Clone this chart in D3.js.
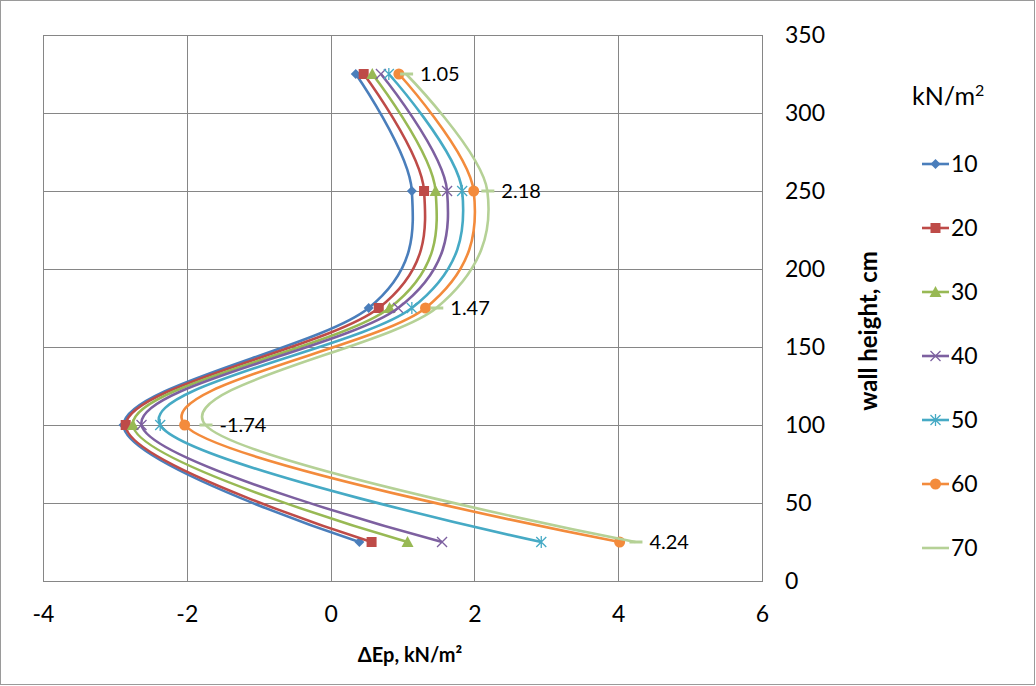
<!DOCTYPE html>
<html><head><meta charset="utf-8">
<script src="https://cdn.jsdelivr.net/npm/d3@7/dist/d3.min.js"></script>
<style>body{margin:0;background:#fff}svg text{font-family:Lato,"Open Sans",sans-serif;fill:#000}</style>
</head><body><svg id="c" width="1036" height="686"></svg>
<script>
const heights = [25, 100, 175, 250, 325];
const seriesNames = ["10", "20", "30", "40", "50", "60", "70"];
const s10 = [0.40, -2.88, 0.53, 1.13, 0.35];
const s20 = [0.57, -2.85, 0.67, 1.30, 0.46];
const s30 = [1.07, -2.75, 0.82, 1.46, 0.58];
const s40 = [1.55, -2.63, 0.94, 1.62, 0.70];
const s50 = [2.93, -2.37, 1.13, 1.83, 0.81];
const s60 = [4.02, -2.03, 1.32, 1.99, 0.95];
const s70 = [4.24, -1.74, 1.47, 2.18, 1.05];
const colors = ["#4A7EBB", "#BE4B48", "#98B954", "#7D60A0", "#46AAC5", "#F38B3C", "#B5D196"];
const markers = ["diamond", "square", "triangle", "x", "star", "circle", "dash"];
const xTicks = [-4, -2, 0, 2, 4, 6];
const yTicks = [0, 50, 100, 150, 200, 250, 300, 350];
const labelSeries = s70;

const allSeries = [s10, s20, s30, s40, s50, s60, s70];
const svg = d3.select("#c");
svg.append("rect").attr("x", 0.5).attr("y", 0.5).attr("width", 1034).attr("height", 684)
  .attr("fill", "#fff").attr("stroke", "#9a9a9a");

const L = 43, R = 762, T = 35, B = 581;
const x = d3.scaleLinear().domain([-4, 6]).range([L, R]);
const y = d3.scaleLinear().domain([0, 350]).range([B, T]);
const hy = s => String(s).replace("\u2212", "-");

const g = svg.append("g");
g.selectAll(".vg").data(xTicks).join("line")
  .attr("x1", d => Math.round(x(d)) + 0.5).attr("x2", d => Math.round(x(d)) + 0.5)
  .attr("y1", T).attr("y2", B).attr("stroke", "#868686").attr("stroke-width", 1);
g.selectAll(".hg").data(yTicks).join("line")
  .attr("y1", d => Math.round(y(d)) + 0.5).attr("y2", d => Math.round(y(d)) + 0.5)
  .attr("x1", L).attr("x2", R).attr("stroke", "#868686").attr("stroke-width", 1);
g.append("rect").attr("x", L + 0.5).attr("y", T + 0.5).attr("width", R - L).attr("height", B - T)
  .attr("fill", "none").attr("stroke", "#868686");

const xAxis = svg.append("g").attr("transform", `translate(0,${B})`)
  .call(d3.axisBottom(x).tickValues(xTicks).tickSize(0).tickPadding(25).tickFormat(d => hy(d3.format("d")(d))));
xAxis.select(".domain").remove();
xAxis.selectAll("text").style("font-size", "23px").style("font-family", "Lato,'Open Sans',sans-serif").attr("fill", "#000");

const yAxis = svg.append("g").attr("transform", `translate(${R},0)`)
  .call(d3.axisRight(y).tickValues(yTicks).tickSize(0).tickPadding(23));
yAxis.select(".domain").remove();
yAxis.selectAll("text").style("font-size", "23px").style("font-family", "Lato,'Open Sans',sans-serif").attr("fill", "#000");

svg.append("text").attr("x", 410).attr("y", 662).attr("text-anchor", "middle")
  .style("font-size", "20px").style("font-weight", "bold").text("ΔEp, kN/m²");
svg.append("text").attr("transform", "translate(877,331) rotate(-90)").attr("text-anchor", "middle")
  .style("font-size", "24px").style("font-weight", "bold").text("wall height, cm");

const line = d3.line().curve(d3.curveCardinal.tension(0)).x(d => x(d[0])).y(d => y(d[1]));
function drawMarker(sel, type, cx, cy, color) {
  if (type === "diamond") sel.append("path").attr("d", `M${cx},${cy-5}L${cx+5},${cy}L${cx},${cy+5}L${cx-5},${cy}Z`).attr("fill", color);
  else if (type === "square") sel.append("rect").attr("x", cx-5).attr("y", cy-5).attr("width", 10).attr("height", 10).attr("fill", color);
  else if (type === "triangle") sel.append("path").attr("d", `M${cx},${cy-6}L${cx+6},${cy+5}L${cx-6},${cy+5}Z`).attr("fill", color);
  else if (type === "x") sel.append("path").attr("d", `M${cx-5},${cy-5}L${cx+5},${cy+5}M${cx-5},${cy+5}L${cx+5},${cy-5}`).attr("stroke", color).attr("stroke-width", 1.3);
  else if (type === "star") sel.append("path").attr("d", `M${cx-5},${cy-5}L${cx+5},${cy+5}M${cx-5},${cy+5}L${cx+5},${cy-5}M${cx},${cy-6}L${cx},${cy+6}`).attr("stroke", color).attr("stroke-width", 1.3);
  else if (type === "circle") sel.append("circle").attr("cx", cx).attr("cy", cy).attr("r", 5.5).attr("fill", color);
  else if (type === "dash") sel.append("path").attr("d", `M${cx-6},${cy}L${cx+7},${cy}`).attr("stroke", color).attr("stroke-width", 3);
}
allSeries.forEach((s, i) => {
  const pts = s.map((v, j) => [v, heights[j]]);
  const sg = svg.append("g");
  sg.append("path").attr("d", line(pts)).attr("fill", "none").attr("stroke", colors[i]).attr("stroke-width", 2.6);
  pts.forEach(p => drawMarker(sg, markers[i], x(p[0]), y(p[1]), colors[i]));
});

svg.selectAll(".dl").data(labelSeries).join("text")
  .attr("x", d => x(d) + 14).attr("y", (d, j) => y(heights[j]) + 7)
  .style("font-size", "20px").text(d => hy(d3.format(".2f")(d)));

const lt = svg.append("text").attr("x", 912).attr("y", 105).style("font-size", "25px");
lt.append("tspan").text("kN/m");
lt.append("tspan").attr("dy", -9).style("font-size", "16px").text("2");

const lg = svg.append("g");
seriesNames.forEach((n, i) => {
  const ly = 164 + i * 64;
  lg.append("line").attr("x1", 922).attr("x2", 949).attr("y1", ly).attr("y2", ly).attr("stroke", colors[i]).attr("stroke-width", 2.6);
  drawMarker(lg, markers[i] === "dash" ? "none" : markers[i], 935.5, ly, colors[i]);
  lg.append("text").attr("x", 951).attr("y", ly + 8).style("font-size", "23px").text(n);
});
</script></body></html>
